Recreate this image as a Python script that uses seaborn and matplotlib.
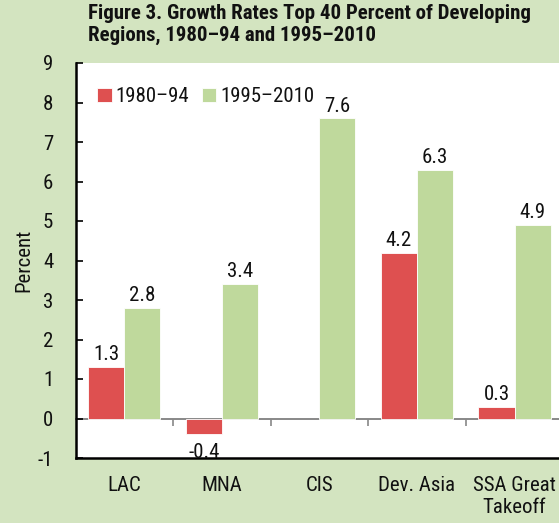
import numpy as np
import pandas as pd
import matplotlib
matplotlib.use("Agg")
import matplotlib.pyplot as plt
import seaborn as sns

categories = ["LAC", "MNA", "CIS", "Dev. Asia", "SSA Great\nTakeoff"]
series_names = ["1980\u201394", "1995\u20132010"]
values_1980_94 = [1.3, -0.4, np.nan, 4.2, 0.3]
values_1995_2010 = [2.8, 3.4, 7.6, 6.3, 4.9]
yticks = [-1, 0, 1, 2, 3, 4, 5, 6, 7, 8, 9]

df = pd.DataFrame({
    "region": categories * 2,
    "period": [series_names[0]] * 5 + [series_names[1]] * 5,
    "value": values_1980_94 + values_1995_2010,
})

sns.set_style("white")
FONT = ["Roboto Condensed", "DejaVu Sans"]
plt.rcParams["font.family"] = FONT

bg = "#D3E4C0"
red = "#DE5050"
green = "#BFD99C"
txtc = "#111111"

fig = plt.figure(figsize=(5.59, 5.23), dpi=100, facecolor=bg)
ax = fig.add_axes([75.5 / 559, 1 - 458 / 523, (563.3 - 75.5) / 559, (458 - 63) / 523])
ax.set_facecolor("white")

sns.barplot(data=df, x="region", y="value", hue="period", order=categories,
            hue_order=series_names, palette=[red, green], width=0.74,
            edgecolor="white", linewidth=0.6, saturation=1, ax=ax, errorbar=None)

for cont in ax.containers:
    heights = [b.get_height() for b in cont]
    pos = ["" if (np.isnan(h) or h < 0) else f"{h:.1f}" for h in heights]
    neg = [f"{h:.1f}" if (not np.isnan(h) and h < 0) else "" for h in heights]
    ax.bar_label(cont, labels=pos, padding=2, fontsize=15, color=txtc)
    ax.bar_label(cont, labels=neg, padding=6, fontsize=15, color=txtc)

ax.set_xlim(-0.5, 4.5)
ax.set_ylim(-1, 9)
ax.set_yticks(yticks)
ax.set_yticklabels([str(t) for t in yticks])
ax.tick_params(axis="y", direction="in", length=5, width=1.2, color="black",
               labelsize=15, pad=16, left=True, labelcolor=txtc)
ax.tick_params(axis="x", length=0, labelsize=15, pad=13, labelcolor=txtc)
ax.set_xlabel("")
ax.set_ylabel("Percent", fontsize=15, labelpad=3, color=txtc)

for s in ["top", "right"]:
    ax.spines[s].set_visible(False)
ax.spines["left"].set_color("black")
ax.spines["left"].set_linewidth(1.8)
ax.spines["bottom"].set_color("black")
ax.spines["bottom"].set_linewidth(1.8)

# category axis at zero
sec = ax.secondary_xaxis(0.1)
sec.set_xticks([0.5, 1.5, 2.5, 3.5])
sec.set_xticklabels([])
sec.tick_params(direction="out", length=5, width=1.2, color="#888888")
sec.spines["bottom"].set_color("#888888")
sec.spines["bottom"].set_linewidth(1.4)

leg = ax.legend(loc="upper left", bbox_to_anchor=(0.027, 0.96), ncol=2, frameon=False,
                fontsize=15, handlelength=0.7, handleheight=0.7, handletextpad=0.2,
                columnspacing=0.6, borderaxespad=0, labelcolor=txtc)

fig.text(88 / 559, 1 - 4 / 523, "Figure 3. Growth Rates Top 40 Percent of Developing\nRegions, 1980\u201394 and 1995\u20132010",
         ha="left", va="top", fontsize=15, fontweight="bold", linespacing=1.2, color=txtc)

fig.savefig("out.png", dpi=100, facecolor=bg)
